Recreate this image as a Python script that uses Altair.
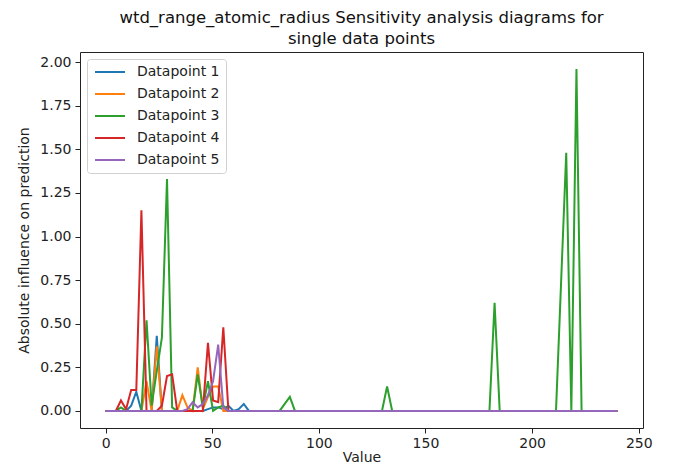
import altair as alt
import pandas as pd

# Sampling grid of the sensitivity analysis (0 .. 240, step 2.4 -> 101 points)
X_VALUES = [round(i * 2.4, 1) for i in range(101)]

SERIES_NAMES = ["Datapoint 1", "Datapoint 2", "Datapoint 3", "Datapoint 4", "Datapoint 5"]
SERIES_COLORS = ["#1f77b4", "#ff7f0e", "#2ca02c", "#d62728", "#9467bd"]

DP1 = ([0, 0, 0, 0, 0, 0.03, 0.11, 0, 0, 0,
        0.43, 0, 0, 0, 0, 0, 0, 0, 0, 0,
        0.01, 0.02, 0.02, 0.01, 0.03, 0, 0.01, 0.04, 0] + [0.0] * 72)

DP2 = ([0, 0, 0, 0, 0, 0, 0, 0, 0.17, 0,
        0.37, 0, 0, 0, 0, 0.09, 0.02, 0, 0.25, 0.01,
        0.08, 0.14, 0.14, 0] + [0.0] * 77)

DP3 = ([0, 0, 0, 0.02, 0, 0, 0, 0, 0.52, 0.03,
        0.23, 0.42, 1.33, 0.02, 0, 0, 0, 0, 0.21, 0.02,
        0.17, 0, 0.02, 0.03, 0] + [0.0] * 10
       + [0.04, 0.08] + [0.0] * 18
       + [0.14] + [0.0] * 20
       + [0.62] + [0.0] * 12
       + [0.74, 1.48, 0, 1.96] + [0.0] * 8)

DP4 = ([0, 0, 0, 0.06, 0.01, 0.12, 0.12, 1.15, 0, 0,
        0, 0.03, 0.20, 0.21, 0, 0, 0, 0, 0, 0,
        0.39, 0.06, 0.05, 0.48, 0] + [0.0] * 76)

DP5 = ([0, 0, 0, 0, 0, 0, 0, 0, 0, 0,
        0, 0, 0, 0, 0, 0, 0.01, 0.05, 0.02, 0.04,
        0.09, 0.17, 0.38, 0.02, 0] + [0.0] * 76)

Y_TICKS = [0.0, 0.25, 0.5, 0.75, 1.0, 1.25, 1.5, 1.75, 2.0]
X_TICKS = [0, 50, 100, 150, 200, 250]

rows = []
for order, (name, ys) in enumerate(zip(SERIES_NAMES, [DP1, DP2, DP3, DP4, DP5])):
    for x, y in zip(X_VALUES, ys):
        rows.append({"Value": x, "Influence": y, "Series": name, "order": order})
df = pd.DataFrame(rows)

FONT = "DejaVu Sans"

chart = alt.Chart(df).mark_line(strokeWidth=2, clip=True).encode(
    x=alt.X("Value:Q",
            scale=alt.Scale(domain=[-12, 252], nice=False, zero=False),
            axis=alt.Axis(values=X_TICKS, title="Value", format="d")),
    y=alt.Y("Influence:Q",
            scale=alt.Scale(domain=[-0.098, 2.058], nice=False, zero=False),
            axis=alt.Axis(values=Y_TICKS, title="Absolute influence on prediction", format=".2f")),
    color=alt.Color("Series:N",
                    scale=alt.Scale(domain=SERIES_NAMES, range=SERIES_COLORS),
                    legend=alt.Legend(title=None, orient="top-left", offset=7,
                                      symbolType="M-1,0L5,0", symbolSize=100,
                                      symbolStrokeWidth=2, labelFontSize=14,
                                      labelFont=FONT, labelColor="#222",
                                      labelOffset=30, rowPadding=8, padding=6,
                                      fillColor="white", strokeColor="#d0d0d0",
                                      cornerRadius=3)),
    order=alt.Order("order:Q"),
    detail="Series:N",
).properties(
    width=563,
    height=376,
    title=alt.TitleParams(
        ["wtd_range_atomic_radius Sensitivity analysis diagrams for", "single data points"],
        anchor="middle", fontSize=16.5, font=FONT, fontWeight="normal",
        color="#111", lineHeight=21, offset=5),
    autosize=alt.AutoSizeParams(type="none"),
    padding={"left": 72, "top": 44, "right": 15, "bottom": 39},
).configure_view(
    stroke="#222", strokeWidth=1
).configure_axis(
    grid=False, domain=False,
    tickColor="#222", tickSize=5, tickWidth=1,
    labelFont=FONT, labelFontSize=14, labelColor="#222", labelPadding=4,
    titleFont=FONT, titleFontSize=14, titleColor="#222", titleFontWeight="normal",
).configure_axisX(
    titlePadding=0, labelPadding=3
).configure_axisY(
    titlePadding=8
)

chart.save("out.html", embed_options={"renderer": "svg", "actions": False})
